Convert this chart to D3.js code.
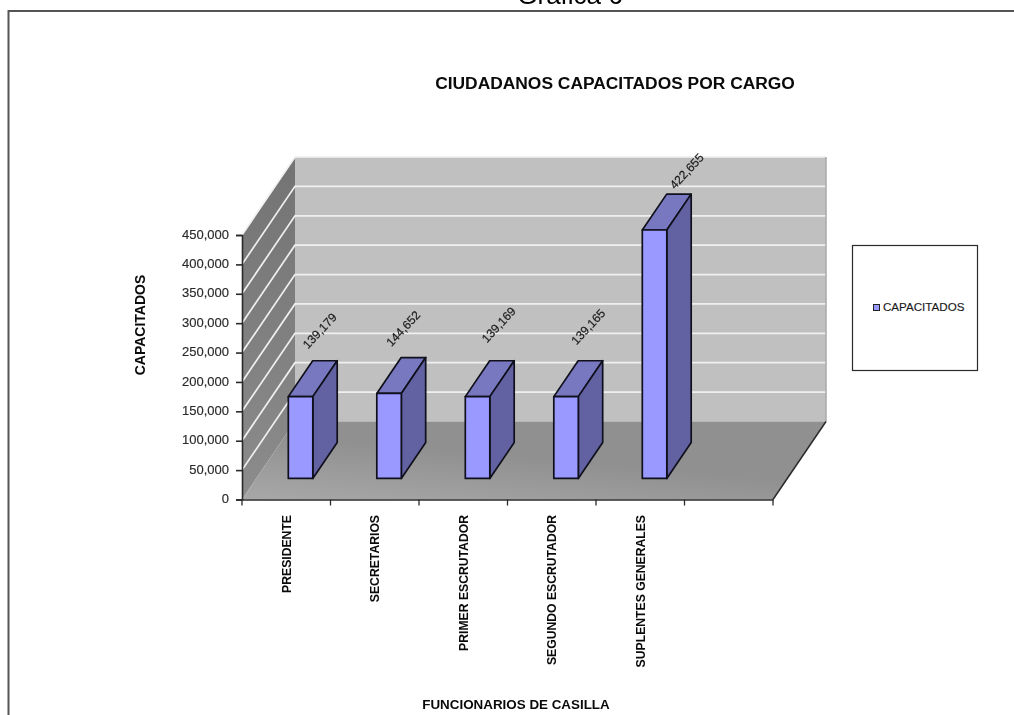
<!DOCTYPE html>
<html lang="en">
<head>
    <meta charset="UTF-8">
    <title>Ciudadanos capacitados por cargo</title>
    <script src="https://d3js.org/d3.v7.min.js"></script>
    <style>
        html, body { margin: 0; padding: 0; background: #fff; overflow: hidden; }
        svg { display: block; font-family: "Liberation Sans", Arial, sans-serif; filter: blur(0.35px); }
        .tick text { font-size: 13px; fill: #2a2a2a; stroke: #2a2a2a; stroke-width: 0.15px; }
        .bold { font-weight: bold; fill: #0a0a0a; }
    </style>
</head>
<body>
<svg width="1014" height="715"></svg>
<script>
    const categories = ["PRESIDENTE", "SECRETARIOS", "PRIMER ESCRUTADOR", "SEGUNDO ESCRUTADOR", "SUPLENTES GENERALES", ""];
    const values = [139179, 144652, 139169, 139165, 422655];
    const yTicks = [0, 50000, 100000, 150000, 200000, 250000, 300000, 350000, 400000, 450000];
    const seriesName = "CAPACITADOS";

    const svg = d3.select("svg");
    const x0 = 242, x1 = 773, y0 = 499.5, y1 = 235;
    const depthX = 53, depthY = -78;   // floor depth offset

    const xScale = d3.scaleBand().domain(categories).range([x0, x1]);
    const yScale = d3.scaleLinear().domain([0, 450000]).range([y0, y1]);

    // d = 0 front of the floor, d = 1 back wall
    const px = (x, d) => x + depthX * d;
    const py = (y, d) => y + depthY * d;
    const poly = pts => pts.map(p => p.join(",")).join(" ");

    const defs = svg.append("defs");
    const sideGrad = defs.append("linearGradient").attr("id", "sideWall")
        .attr("x1", 0).attr("y1", 0).attr("x2", 0).attr("y2", 1);
    sideGrad.append("stop").attr("offset", "0%").attr("stop-color", "#737373");
    sideGrad.append("stop").attr("offset", "100%").attr("stop-color", "#8c8c8c");
    const floorGrad = defs.append("linearGradient").attr("id", "floorFill")
        .attr("x1", 0).attr("y1", 1).attr("x2", 0.4).attr("y2", 0.4);
    floorGrad.append("stop").attr("offset", "0%").attr("stop-color", "#a8a8a8");
    floorGrad.append("stop").attr("offset", "100%").attr("stop-color", "#909090");

    // outer frame, open at the right and the bottom
    svg.append("path").attr("d", "M8.5,715V11H1014").attr("fill", "none").attr("stroke", "#555").attr("stroke-width", 2);

    svg.append("text").attr("x", 570).attr("y", 4).attr("text-anchor", "middle")
        .attr("font-size", 26).attr("fill", "#000").text("Gráfica 6");

    svg.append("text").attr("class", "bold").attr("x", 615).attr("y", 89).attr("text-anchor", "middle")
        .attr("font-size", 17.4).text("CIUDADANOS CAPACITADOS POR CARGO");

    // walls
    svg.append("polygon").attr("fill", "#c0c0c0")
        .attr("points", poly([[px(x0, 1), py(y0, 1)], [px(x1, 1), py(y0, 1)], [px(x1, 1), py(y1, 1)], [px(x0, 1), py(y1, 1)]]));
    svg.append("polygon").attr("fill", "url(#sideWall)")
        .attr("points", poly([[x0, y0], [px(x0, 1), py(y0, 1)], [px(x0, 1), py(y1, 1)], [x0, y1]]));
    svg.append("polygon").attr("fill", "url(#floorFill)")
        .attr("points", poly([[x0, y0], [x1, y0], [px(x1, 1), py(y0, 1)], [px(x0, 1), py(y0, 1)]]));

    // gridlines run along the side wall, then across the back wall
    svg.append("g").selectAll("polyline")
        .data(yTicks.filter(d => d > 0))
        .enter().append("polyline")
        .attr("fill", "none").attr("stroke", "#f0f0f0").attr("stroke-width", 1.7)
        .attr("points", d => poly([[x0, yScale(d)], [px(x0, 1), py(yScale(d), 1)], [px(x1, 1), py(yScale(d), 1)]]));

    // right edge of wall and floor
    svg.append("line").attr("x1", px(x1, 1)).attr("y1", py(y0, 1)).attr("x2", px(x1, 1)).attr("y2", py(y1, 1))
        .attr("stroke", "#a8a8a8").attr("stroke-width", 1.5);
    svg.append("line").attr("x1", x1).attr("y1", y0).attr("x2", px(x1, 1)).attr("y2", py(y0, 1))
        .attr("stroke", "#2a2a2a").attr("stroke-width", 1.5);

    // bars
    const barWidth = 24.5, dFront = 0.27, dBack = 0.73;
    const bars = svg.append("g").selectAll("g")
        .data(values)
        .enter().append("g")
        .attr("stroke", "#10101c").attr("stroke-width", 1.7).attr("stroke-linejoin", "round");
    const barLeft = (d, i) => xScale(categories[i]) + xScale.bandwidth() / 2 - barWidth / 2;

    bars.append("polygon").attr("fill", "#7878c0")
        .attr("points", (d, i) => {
            const l = barLeft(d, i), r = l + barWidth, t = yScale(d);
            return poly([[px(l, dFront), py(t, dFront)], [px(r, dFront), py(t, dFront)], [px(r, dBack), py(t, dBack)], [px(l, dBack), py(t, dBack)]]);
        });
    bars.append("polygon").attr("fill", "#6262a3")
        .attr("points", (d, i) => {
            const r = barLeft(d, i) + barWidth, t = yScale(d);
            return poly([[px(r, dFront), py(t, dFront)], [px(r, dBack), py(t, dBack)], [px(r, dBack), py(y0, dBack)], [px(r, dFront), py(y0, dFront)]]);
        });
    bars.append("polygon").attr("fill", "#9999ff")
        .attr("points", (d, i) => {
            const l = barLeft(d, i), r = l + barWidth, t = yScale(d);
            return poly([[px(l, dFront), py(t, dFront)], [px(r, dFront), py(t, dFront)], [px(r, dFront), py(y0, dFront)], [px(l, dFront), py(y0, dFront)]]);
        });

    // value labels were nudged by hand in the original, so each gets its own offset
    const labelNudgeX = [-5, -10, -3, -2, 8];
    const labelNudgeY = [0, 1, -6, -4, 7];
    svg.append("g").selectAll("text")
        .data(values)
        .enter().append("text")
        .attr("font-size", 12).attr("fill", "#1a1a1a").attr("stroke", "#1a1a1a").attr("stroke-width", 0.2)
        .attr("text-anchor", "middle").attr("dy", "0.35em")
        .attr("transform", (d, i) => {
            const cx = px(barLeft(d, i), dBack) + 12 + labelNudgeX[i];
            const cy = py(yScale(d), dBack) - 30 + labelNudgeY[i];
            return `translate(${cx},${cy}) rotate(-47)`;
        })
        .text(d => d3.format(",")(d));

    // axes
    const yAxis = svg.append("g").attr("transform", `translate(${x0},0)`)
        .call(d3.axisLeft(yScale).tickValues(yTicks).tickSize(6).tickPadding(7).tickFormat(d3.format(",")));
    yAxis.selectAll("path, line").attr("stroke", "#2a2a2a").attr("stroke-width", 1.6);
    yAxis.selectAll(".tick text").attr("y", -1).attr("dy", "0.32em");

    const xAxis = svg.append("g").attr("transform", `translate(0,${y0})`)
        .call(d3.axisBottom(xScale).tickValues([]).tickSizeOuter(0));
    xAxis.select("path").attr("stroke", "#2a2a2a").attr("stroke-width", 1.6);
    xAxis.selectAll(".sep")
        .data(d3.range(categories.length + 1))
        .enter().append("line").attr("class", "sep")
        .attr("x1", i => x0 + i * xScale.step()).attr("x2", i => x0 + i * xScale.step())
        .attr("y1", 0).attr("y2", 6)
        .attr("stroke", "#2a2a2a").attr("stroke-width", 1.3);

    // category labels, read top to bottom from the axis side
    svg.append("g").selectAll("text")
        .data(categories.filter(d => d))
        .enter().append("text")
        .attr("class", "bold").attr("font-size", 12.2).attr("text-anchor", "end")
        .attr("transform", d => `translate(${xScale(d) + xScale.bandwidth() / 2 + 4.5},515) rotate(-90)`)
        .text(d => d);

    svg.append("text").attr("class", "bold").attr("x", 516).attr("y", 709).attr("text-anchor", "middle")
        .attr("font-size", 13.4).text("FUNCIONARIOS DE CASILLA");
    svg.append("text").attr("class", "bold").attr("text-anchor", "middle").attr("font-size", 14)
        .attr("transform", "translate(145,325) rotate(-90)").text(seriesName);

    // legend
    svg.append("rect").attr("x", 852.5).attr("y", 245.5).attr("width", 125).attr("height", 125)
        .attr("fill", "#fff").attr("stroke", "#2a2a2a").attr("stroke-width", 1.2);
    svg.append("rect").attr("x", 873.5).attr("y", 304.5).attr("width", 6).attr("height", 6)
        .attr("fill", "#9999ff").attr("stroke", "#222");
    svg.append("text").attr("x", 883).attr("y", 311).attr("font-size", 11.6).attr("fill", "#1a1a1a")
        .attr("stroke", "#1a1a1a").attr("stroke-width", 0.15).text(seriesName);
</script>
</body>
</html>
